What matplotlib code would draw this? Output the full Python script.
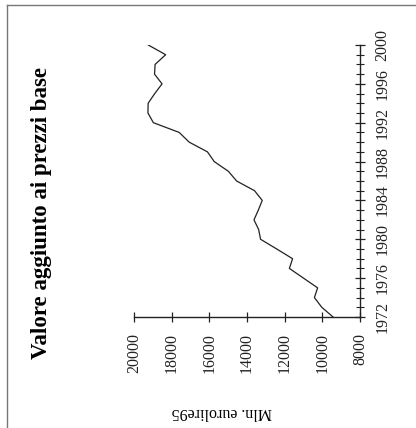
import matplotlib
matplotlib.use('Agg')
import matplotlib.pyplot as plt
from matplotlib.lines import Line2D
from matplotlib.ticker import MultipleLocator

plt.rcParams['font.family'] = ['Liberation Serif', 'DejaVu Serif']

# Valore aggiunto, Mln. eurolire95
years = list(range(1972, 2001))
values = [9430, 10030, 10420, 10250, 11000, 11750, 11580, 12420, 13280, 13380,
          13630, 13400, 13190, 13600, 14550, 14990, 15740, 16100, 17070, 17600,
          18970, 19260, 19250, 18900, 18510, 18910, 18880, 18320, 19240]
value_ticks = [8000, 10000, 12000, 14000, 16000, 18000, 20000]
year_ticks = [1972, 1976, 1980, 1984, 1988, 1992, 1996, 2000]

W, H = 416, 428
fig = plt.figure(figsize=(W / 100, H / 100), dpi=100)
fig.patch.set_facecolor('white')

# chart is printed rotated: years run upward, values run leftward
ax = fig.add_axes([134 / W, 111 / H, 226 / W, 272 / H])
ax.plot(values, years, color='#222222', lw=0.9)

ax.set_xlim(20000, 8000)
ax.set_ylim(1972, 2000)
ax.spines['left'].set_visible(False)
ax.spines['top'].set_visible(False)
for s in ('right', 'bottom'):
    ax.spines[s].set_linewidth(1.0)
    ax.spines[s].set_color('#222222')

ax.set_xticks(value_ticks)
ax.set_xticklabels([str(v) for v in value_ticks], rotation=90, fontsize=11.5)
ax.yaxis.tick_right()
ax.set_yticks(year_ticks)
ax.set_yticklabels([str(y) for y in year_ticks], rotation=90, fontsize=11.5,
                   va='center')
ax.yaxis.set_minor_locator(MultipleLocator(1))
ax.tick_params(axis='x', direction='inout', length=7, width=0.9, pad=8, colors='#222222')
ax.tick_params(axis='y', which='major', direction='inout', length=7, width=0.9, pad=7,
               colors='#222222')
ax.tick_params(axis='y', which='minor', direction='inout', length=6, width=0.8,
               color='#222222')

fig.text(42 / W, 1 - 213 / H, 'Valore aggiunto ai prezzi base', rotation=90,
         ha='center', va='center', fontsize=16.5, fontweight='bold')
fig.text(222 / W, 1 - 412 / H, 'Mln. eurolire95', rotation=180,
         ha='center', va='center', fontsize=11.5)

# page frame from the scan
fig.add_artist(Line2D([7 / W, 7 / W], [0, 1 - 5 / H], color='#777777', lw=1.0))
fig.add_artist(Line2D([7 / W, 1], [1 - 5 / H, 1 - 5 / H], color='#777777', lw=1.0))

fig.savefig('out.png', dpi=100)
